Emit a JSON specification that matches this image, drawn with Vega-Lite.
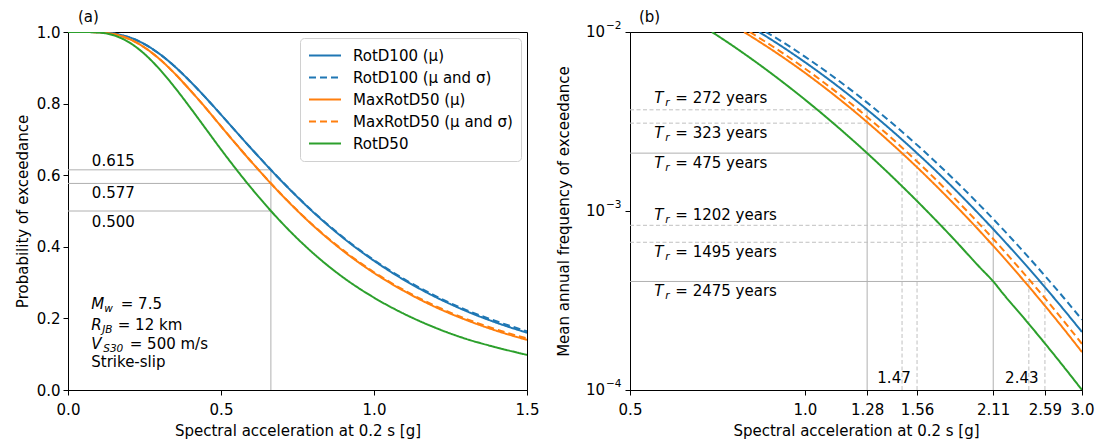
{
 "$schema": "https://vega.github.io/schema/vega-lite/v6.json",
 "padding": {"left": 14, "top": 9, "right": 5, "bottom": 0},
 "spacing": 16,
 "datasets": {
  "curvesA": [
   {"s": "RotD100 (μ)", "x": 0, "y": 1.0}, {"s": "RotD100 (μ)", "x": 0.05, "y": 1.0}, {"s": "RotD100 (μ)", "x": 0.1, "y": 0.9995}, {"s": "RotD100 (μ)", "x": 0.15, "y": 0.9957}, {"s": "RotD100 (μ)", "x": 0.2, "y": 0.9853}, {"s": "RotD100 (μ)", "x": 0.25, "y": 0.9661}, {"s": "RotD100 (μ)", "x": 0.3, "y": 0.9382}, {"s": "RotD100 (μ)", "x": 0.35, "y": 0.9028}, {"s": "RotD100 (μ)", "x": 0.4, "y": 0.8614}, {"s": "RotD100 (μ)", "x": 0.45, "y": 0.8165}, {"s": "RotD100 (μ)", "x": 0.5, "y": 0.7689}, {"s": "RotD100 (μ)", "x": 0.6, "y": 0.6733}, {"s": "RotD100 (μ)", "x": 0.7, "y": 0.5816}, {"s": "RotD100 (μ)", "x": 0.8, "y": 0.498}, {"s": "RotD100 (μ)", "x": 0.9, "y": 0.4243}, {"s": "RotD100 (μ)", "x": 1.0, "y": 0.361}, {"s": "RotD100 (μ)", "x": 1.1, "y": 0.3065}, {"s": "RotD100 (μ)", "x": 1.2, "y": 0.2602}, {"s": "RotD100 (μ)", "x": 1.3, "y": 0.221}, {"s": "RotD100 (μ)", "x": 1.4, "y": 0.188}, {"s": "RotD100 (μ)", "x": 1.5, "y": 0.16},
   {"s": "RotD100 (μ and σ)", "x": 0, "y": 1.0}, {"s": "RotD100 (μ and σ)", "x": 0.05, "y": 1.0}, {"s": "RotD100 (μ and σ)", "x": 0.1, "y": 0.9995}, {"s": "RotD100 (μ and σ)", "x": 0.15, "y": 0.9957}, {"s": "RotD100 (μ and σ)", "x": 0.2, "y": 0.9853}, {"s": "RotD100 (μ and σ)", "x": 0.25, "y": 0.9661}, {"s": "RotD100 (μ and σ)", "x": 0.3, "y": 0.9382}, {"s": "RotD100 (μ and σ)", "x": 0.35, "y": 0.9028}, {"s": "RotD100 (μ and σ)", "x": 0.4, "y": 0.8614}, {"s": "RotD100 (μ and σ)", "x": 0.45, "y": 0.8165}, {"s": "RotD100 (μ and σ)", "x": 0.5, "y": 0.7689}, {"s": "RotD100 (μ and σ)", "x": 0.6, "y": 0.6735}, {"s": "RotD100 (μ and σ)", "x": 0.7, "y": 0.5822}, {"s": "RotD100 (μ and σ)", "x": 0.8, "y": 0.499}, {"s": "RotD100 (μ and σ)", "x": 0.9, "y": 0.426}, {"s": "RotD100 (μ and σ)", "x": 1.0, "y": 0.363}, {"s": "RotD100 (μ and σ)", "x": 1.1, "y": 0.309}, {"s": "RotD100 (μ and σ)", "x": 1.2, "y": 0.263}, {"s": "RotD100 (μ and σ)", "x": 1.3, "y": 0.224}, {"s": "RotD100 (μ and σ)", "x": 1.4, "y": 0.192}, {"s": "RotD100 (μ and σ)", "x": 1.5, "y": 0.164},
   {"s": "MaxRotD50 (μ)", "x": 0, "y": 1.0}, {"s": "MaxRotD50 (μ)", "x": 0.05, "y": 1.0}, {"s": "MaxRotD50 (μ)", "x": 0.1, "y": 0.9992}, {"s": "MaxRotD50 (μ)", "x": 0.15, "y": 0.994}, {"s": "MaxRotD50 (μ)", "x": 0.2, "y": 0.9804}, {"s": "MaxRotD50 (μ)", "x": 0.25, "y": 0.9568}, {"s": "MaxRotD50 (μ)", "x": 0.3, "y": 0.9238}, {"s": "MaxRotD50 (μ)", "x": 0.35, "y": 0.883}, {"s": "MaxRotD50 (μ)", "x": 0.4, "y": 0.8367}, {"s": "MaxRotD50 (μ)", "x": 0.45, "y": 0.788}, {"s": "MaxRotD50 (μ)", "x": 0.5, "y": 0.7367}, {"s": "MaxRotD50 (μ)", "x": 0.6, "y": 0.6366}, {"s": "MaxRotD50 (μ)", "x": 0.7, "y": 0.5434}, {"s": "MaxRotD50 (μ)", "x": 0.8, "y": 0.46}, {"s": "MaxRotD50 (μ)", "x": 0.9, "y": 0.388}, {"s": "MaxRotD50 (μ)", "x": 1.0, "y": 0.327}, {"s": "MaxRotD50 (μ)", "x": 1.1, "y": 0.2756}, {"s": "MaxRotD50 (μ)", "x": 1.2, "y": 0.232}, {"s": "MaxRotD50 (μ)", "x": 1.3, "y": 0.196}, {"s": "MaxRotD50 (μ)", "x": 1.4, "y": 0.1655}, {"s": "MaxRotD50 (μ)", "x": 1.5, "y": 0.14},
   {"s": "MaxRotD50 (μ and σ)", "x": 0, "y": 1.0}, {"s": "MaxRotD50 (μ and σ)", "x": 0.05, "y": 1.0}, {"s": "MaxRotD50 (μ and σ)", "x": 0.1, "y": 0.9992}, {"s": "MaxRotD50 (μ and σ)", "x": 0.15, "y": 0.994}, {"s": "MaxRotD50 (μ and σ)", "x": 0.2, "y": 0.9804}, {"s": "MaxRotD50 (μ and σ)", "x": 0.25, "y": 0.9568}, {"s": "MaxRotD50 (μ and σ)", "x": 0.3, "y": 0.9238}, {"s": "MaxRotD50 (μ and σ)", "x": 0.35, "y": 0.883}, {"s": "MaxRotD50 (μ and σ)", "x": 0.4, "y": 0.8367}, {"s": "MaxRotD50 (μ and σ)", "x": 0.45, "y": 0.788}, {"s": "MaxRotD50 (μ and σ)", "x": 0.5, "y": 0.7367}, {"s": "MaxRotD50 (μ and σ)", "x": 0.6, "y": 0.6368}, {"s": "MaxRotD50 (μ and σ)", "x": 0.7, "y": 0.544}, {"s": "MaxRotD50 (μ and σ)", "x": 0.8, "y": 0.461}, {"s": "MaxRotD50 (μ and σ)", "x": 0.9, "y": 0.39}, {"s": "MaxRotD50 (μ and σ)", "x": 1.0, "y": 0.329}, {"s": "MaxRotD50 (μ and σ)", "x": 1.1, "y": 0.278}, {"s": "MaxRotD50 (μ and σ)", "x": 1.2, "y": 0.235}, {"s": "MaxRotD50 (μ and σ)", "x": 1.3, "y": 0.199}, {"s": "MaxRotD50 (μ and σ)", "x": 1.4, "y": 0.169}, {"s": "MaxRotD50 (μ and σ)", "x": 1.5, "y": 0.144},
   {"s": "RotD50", "x": 0, "y": 1.0}, {"s": "RotD50", "x": 0.05, "y": 1.0}, {"s": "RotD50", "x": 0.1, "y": 0.9986}, {"s": "RotD50", "x": 0.15, "y": 0.9906}, {"s": "RotD50", "x": 0.2, "y": 0.971}, {"s": "RotD50", "x": 0.25, "y": 0.9386}, {"s": "RotD50", "x": 0.3, "y": 0.8953}, {"s": "RotD50", "x": 0.35, "y": 0.844}, {"s": "RotD50", "x": 0.4, "y": 0.788}, {"s": "RotD50", "x": 0.45, "y": 0.73}, {"s": "RotD50", "x": 0.5, "y": 0.672}, {"s": "RotD50", "x": 0.6, "y": 0.563}, {"s": "RotD50", "x": 0.7, "y": 0.466}, {"s": "RotD50", "x": 0.8, "y": 0.383}, {"s": "RotD50", "x": 0.9, "y": 0.314}, {"s": "RotD50", "x": 1.0, "y": 0.258}, {"s": "RotD50", "x": 1.1, "y": 0.212}, {"s": "RotD50", "x": 1.2, "y": 0.174}, {"s": "RotD50", "x": 1.3, "y": 0.143}, {"s": "RotD50", "x": 1.4, "y": 0.119}, {"s": "RotD50", "x": 1.5, "y": 0.098}
  ],
  "curvesB": [
   {"s": "RotD100 (μ)", "x": 0.834, "y": 0.01}, {"s": "RotD100 (μ)", "x": 0.9, "y": 0.008556}, {"s": "RotD100 (μ)", "x": 1.0, "y": 0.006788}, {"s": "RotD100 (μ)", "x": 1.1, "y": 0.005425}, {"s": "RotD100 (μ)", "x": 1.2, "y": 0.004364}, {"s": "RotD100 (μ)", "x": 1.28, "y": 0.003684}, {"s": "RotD100 (μ)", "x": 1.4, "y": 0.00288}, {"s": "RotD100 (μ)", "x": 1.56, "y": 0.002104}, {"s": "RotD100 (μ)", "x": 1.6, "y": 0.00195}, {"s": "RotD100 (μ)", "x": 1.8, "y": 0.001349}, {"s": "RotD100 (μ)", "x": 2.0, "y": 0.000952}, {"s": "RotD100 (μ)", "x": 2.2, "y": 0.000684}, {"s": "RotD100 (μ)", "x": 2.4, "y": 0.0004995}, {"s": "RotD100 (μ)", "x": 2.6, "y": 0.0003699}, {"s": "RotD100 (μ)", "x": 2.8, "y": 0.0002776}, {"s": "RotD100 (μ)", "x": 3.0, "y": 0.0002109},
   {"s": "RotD100 (μ and σ)", "x": 0.856, "y": 0.01}, {"s": "RotD100 (μ and σ)", "x": 0.9, "y": 0.0091}, {"s": "RotD100 (μ and σ)", "x": 1.0, "y": 0.007286}, {"s": "RotD100 (μ and σ)", "x": 1.1, "y": 0.005866}, {"s": "RotD100 (μ and σ)", "x": 1.2, "y": 0.004751}, {"s": "RotD100 (μ and σ)", "x": 1.28, "y": 0.004032}, {"s": "RotD100 (μ and σ)", "x": 1.4, "y": 0.003176}, {"s": "RotD100 (μ and σ)", "x": 1.6, "y": 0.002172}, {"s": "RotD100 (μ and σ)", "x": 1.8, "y": 0.001517}, {"s": "RotD100 (μ and σ)", "x": 2.0, "y": 0.001079}, {"s": "RotD100 (μ and σ)", "x": 2.2, "y": 0.0007816}, {"s": "RotD100 (μ and σ)", "x": 2.4, "y": 0.0005745}, {"s": "RotD100 (μ and σ)", "x": 2.6, "y": 0.0004283}, {"s": "RotD100 (μ and σ)", "x": 2.8, "y": 0.0003235}, {"s": "RotD100 (μ and σ)", "x": 3.0, "y": 0.0002471},
   {"s": "MaxRotD50 (μ)", "x": 0.786, "y": 0.01}, {"s": "MaxRotD50 (μ)", "x": 0.8, "y": 0.009645}, {"s": "MaxRotD50 (μ)", "x": 0.9, "y": 0.007527}, {"s": "MaxRotD50 (μ)", "x": 1.0, "y": 0.005921}, {"s": "MaxRotD50 (μ)", "x": 1.1, "y": 0.004688}, {"s": "MaxRotD50 (μ)", "x": 1.2, "y": 0.00374}, {"s": "MaxRotD50 (μ)", "x": 1.28, "y": 0.003137}, {"s": "MaxRotD50 (μ)", "x": 1.4, "y": 0.00243}, {"s": "MaxRotD50 (μ)", "x": 1.47, "y": 0.002104}, {"s": "MaxRotD50 (μ)", "x": 1.6, "y": 0.001622}, {"s": "MaxRotD50 (μ)", "x": 1.8, "y": 0.001107}, {"s": "MaxRotD50 (μ)", "x": 2.0, "y": 0.0007725}, {"s": "MaxRotD50 (μ)", "x": 2.2, "y": 0.0005489}, {"s": "MaxRotD50 (μ)", "x": 2.4, "y": 0.0003967}, {"s": "MaxRotD50 (μ)", "x": 2.6, "y": 0.000291}, {"s": "MaxRotD50 (μ)", "x": 2.8, "y": 0.0002164}, {"s": "MaxRotD50 (μ)", "x": 3.0, "y": 0.0001629},
   {"s": "MaxRotD50 (μ and σ)", "x": 0.804, "y": 0.01}, {"s": "MaxRotD50 (μ and σ)", "x": 0.9, "y": 0.007921}, {"s": "MaxRotD50 (μ and σ)", "x": 1.0, "y": 0.006256}, {"s": "MaxRotD50 (μ and σ)", "x": 1.1, "y": 0.004975}, {"s": "MaxRotD50 (μ and σ)", "x": 1.2, "y": 0.003984}, {"s": "MaxRotD50 (μ and σ)", "x": 1.28, "y": 0.003353}, {"s": "MaxRotD50 (μ and σ)", "x": 1.4, "y": 0.002608}, {"s": "MaxRotD50 (μ and σ)", "x": 1.6, "y": 0.00175}, {"s": "MaxRotD50 (μ and σ)", "x": 1.8, "y": 0.001202}, {"s": "MaxRotD50 (μ and σ)", "x": 2.0, "y": 0.000842}, {"s": "MaxRotD50 (μ and σ)", "x": 2.2, "y": 0.0006012}, {"s": "MaxRotD50 (μ and σ)", "x": 2.4, "y": 0.000436}, {"s": "MaxRotD50 (μ and σ)", "x": 2.6, "y": 0.000321}, {"s": "MaxRotD50 (μ and σ)", "x": 2.8, "y": 0.0002395}, {"s": "MaxRotD50 (μ and σ)", "x": 3.0, "y": 0.0001809},
   {"s": "RotD50", "x": 0.692, "y": 0.01}, {"s": "RotD50", "x": 0.75, "y": 0.00841}, {"s": "RotD50", "x": 0.8, "y": 0.007268}, {"s": "RotD50", "x": 0.9, "y": 0.005485}, {"s": "RotD50", "x": 1.0, "y": 0.004195}, {"s": "RotD50", "x": 1.1, "y": 0.003247}, {"s": "RotD50", "x": 1.2, "y": 0.002541}, {"s": "RotD50", "x": 1.28, "y": 0.002104}, {"s": "RotD50", "x": 1.4, "y": 0.001603}, {"s": "RotD50", "x": 1.6, "y": 0.001046}, {"s": "RotD50", "x": 1.8, "y": 0.0007033}, {"s": "RotD50", "x": 2.0, "y": 0.0004849}, {"s": "RotD50", "x": 2.11, "y": 0.000404}, {"s": "RotD50", "x": 2.2, "y": 0.0003416}, {"s": "RotD50", "x": 2.4, "y": 0.0002454}, {"s": "RotD50", "x": 2.6, "y": 0.0001793}, {"s": "RotD50", "x": 2.8, "y": 0.000133}, {"s": "RotD50", "x": 3.0, "y": 0.0001}
  ],
  "refA": [
   {"x": 0, "x2": 0.663, "y": 0.615, "y2": 0.615},
   {"x": 0, "x2": 0.663, "y": 0.577, "y2": 0.577},
   {"x": 0, "x2": 0.663, "y": 0.5, "y2": 0.5},
   {"x": 0.663, "x2": 0.663, "y": 0, "y2": 0.615}
  ],
  "refBsolid": [
   {"x": 0.5, "x2": 1.56, "y": 0.002105, "y2": 0.002105},
   {"x": 0.5, "x2": 2.59, "y": 0.000404, "y2": 0.000404},
   {"x": 1.28, "x2": 1.28, "y": 0.0001, "y2": 0.003676},
   {"x": 2.11, "x2": 2.11, "y": 0.0001, "y2": 0.0008319}
  ],
  "refBdash": [
   {"x": 0.5, "x2": 1.28, "y": 0.003676, "y2": 0.003676},
   {"x": 0.5, "x2": 1.28, "y": 0.003096, "y2": 0.003096},
   {"x": 0.5, "x2": 2.11, "y": 0.0008319, "y2": 0.0008319},
   {"x": 0.5, "x2": 2.11, "y": 0.0006689, "y2": 0.0006689},
   {"x": 1.47, "x2": 1.47, "y": 0.0001, "y2": 0.002105},
   {"x": 1.56, "x2": 1.56, "y": 0.0001, "y2": 0.002105},
   {"x": 2.43, "x2": 2.43, "y": 0.0001, "y2": 0.000404},
   {"x": 2.59, "x2": 2.59, "y": 0.0001, "y2": 0.000404}
  ],
  "labA": [
   {"x": 0.078, "y": 0.64, "t": "0.615"},
   {"x": 0.078, "y": 0.55, "t": "0.577"},
   {"x": 0.078, "y": 0.469, "t": "0.500"}
  ],
  "panelA": [{"x": 0, "y": 1, "t": "(a)"}],
  "panelB": [{"x": 0.5, "y": 0.01, "t": "(b)"}],
  "notesA": [
   {"row": 1, "x": 0.076, "y": 0.239, "main": "M", "sub": "w", "rest": "= 7.5"},
   {"row": 2, "x": 0.076, "y": 0.181, "main": "R", "sub": "JB", "rest": "= 12 km"},
   {"row": 3, "x": 0.076, "y": 0.128, "main": "V", "sub": "S30", "rest": "= 500 m/s"},
   {"row": 4, "x": 0.076, "y": 0.077, "main": "", "sub": "", "rest": "Strike-slip"}
  ],
  "notesB": [
   {"x": 0.5506, "y": 0.00428, "main": "T", "sub": "r", "rest": "= 272 years"},
   {"x": 0.5506, "y": 0.002728, "main": "T", "sub": "r", "rest": "= 323 years"},
   {"x": 0.5506, "y": 0.001864, "main": "T", "sub": "r", "rest": "= 475 years"},
   {"x": 0.5506, "y": 0.00095, "main": "T", "sub": "r", "rest": "= 1202 years"},
   {"x": 0.5506, "y": 0.00059, "main": "T", "sub": "r", "rest": "= 1495 years"},
   {"x": 0.5506, "y": 0.0003552, "main": "T", "sub": "r", "rest": "= 2475 years"}
  ],
  "labB": [
   {"x": 1.424, "y": 0.000117, "t": "1.47"},
   {"x": 2.363, "y": 0.000117, "t": "2.43"}
  ],
  "yticksB": [
   {"x": 0.5, "y": 0.01, "e": "−2"},
   {"x": 0.5, "y": 0.001, "e": "−3"},
   {"x": 0.5, "y": 0.0001, "e": "−4"}
  ]
 },
 "hconcat": [
  {
   "width": 459, "height": 358,
   "encoding": {
    "x": {"field": "x", "type": "quantitative", "title": "Spectral acceleration at 0.2 s [g]",
          "scale": {"domain": [0, 1.5], "nice": false, "zero": false},
          "axis": {"values": [0, 0.5, 1.0, 1.5], "format": ".1f"}},
    "y": {"field": "y", "type": "quantitative", "title": "Probability of exceedance",
          "scale": {"domain": [0, 1], "nice": false},
          "axis": {"values": [0, 0.2, 0.4, 0.6, 0.8, 1.0], "format": ".1f", "labelPadding": 3}}
   },
   "layer": [
    {"data": {"name": "refA"}, "mark": {"type": "rule", "color": "#b0b0b0", "strokeWidth": 1},
     "encoding": {"x2": {"field": "x2"}, "y2": {"field": "y2"}}},
    {"data": {"name": "curvesA"}, "mark": {"type": "line", "strokeWidth": 2, "interpolate": "monotone", "clip": true},
     "encoding": {
      "color": {"field": "s", "type": "nominal",
        "scale": {"domain": ["RotD100 (μ)", "RotD100 (μ and σ)", "MaxRotD50 (μ)", "MaxRotD50 (μ and σ)", "RotD50"], "range": ["#1f77b4", "#1f77b4", "#ff7f0e", "#ff7f0e", "#2ca02c"]},
        "legend": {"orient": "top-right", "offset": 6, "title": null, "symbolType": "stroke", "symbolStrokeWidth": 2, "symbolSize": 1024, "clipHeight": 19, "labelFontSize": 15, "labelOffset": 11, "labelColor": "black", "fillColor": "white", "strokeColor": "#d0d0d0", "cornerRadius": 4, "padding": 8, "rowPadding": 3}},
      "strokeDash": {"field": "s", "type": "nominal",
        "scale": {"domain": ["RotD100 (μ)", "RotD100 (μ and σ)", "MaxRotD50 (μ)", "MaxRotD50 (μ and σ)", "RotD50"], "range": [[1, 0], [7, 4], [1, 0], [7, 4], [1, 0]]},
        "legend": {"orient": "top-right", "offset": 6, "title": null, "symbolType": "stroke", "symbolStrokeWidth": 2, "symbolSize": 1024, "clipHeight": 19, "labelFontSize": 15, "labelOffset": 11, "labelColor": "black", "fillColor": "white", "strokeColor": "#d0d0d0", "cornerRadius": 4, "padding": 8, "rowPadding": 3}}
     }},
    {"data": {"name": "labA"}, "mark": {"type": "text", "align": "left", "baseline": "middle", "color": "black"},
     "encoding": {"text": {"field": "t"}}},
    {"data": {"name": "panelA"}, "mark": {"type": "text", "align": "left", "baseline": "alphabetic", "dx": 10, "dy": -10, "color": "black"},
     "encoding": {"text": {"field": "t"}}},
    {"data": {"name": "notesA"}, "mark": {"type": "text", "align": "left", "baseline": "middle", "fontStyle": "italic", "color": "black"},
     "encoding": {"text": {"field": "main"}}},
    {"data": {"name": "notesA"}, "transform": [{"filter": "datum.row == 1"}], "mark": {"type": "text", "align": "left", "baseline": "middle", "fontStyle": "italic", "fontSize": 10.5, "dx": 13, "dy": 5, "color": "black"},
     "encoding": {"text": {"field": "sub"}}},
    {"data": {"name": "notesA"}, "transform": [{"filter": "datum.row == 2"}], "mark": {"type": "text", "align": "left", "baseline": "middle", "fontStyle": "italic", "fontSize": 10.5, "dx": 11, "dy": 5, "color": "black"},
     "encoding": {"text": {"field": "sub"}}},
    {"data": {"name": "notesA"}, "transform": [{"filter": "datum.row == 3"}], "mark": {"type": "text", "align": "left", "baseline": "middle", "fontStyle": "italic", "fontSize": 10.5, "dx": 12, "dy": 5, "color": "black"},
     "encoding": {"text": {"field": "sub"}}},
    {"data": {"name": "notesA"}, "transform": [{"filter": "datum.row == 1"}], "mark": {"type": "text", "align": "left", "baseline": "middle", "dx": 29.5, "color": "black"},
     "encoding": {"text": {"field": "rest"}}},
    {"data": {"name": "notesA"}, "transform": [{"filter": "datum.row == 2"}], "mark": {"type": "text", "align": "left", "baseline": "middle", "dx": 26.5, "color": "black"},
     "encoding": {"text": {"field": "rest"}}},
    {"data": {"name": "notesA"}, "transform": [{"filter": "datum.row == 3"}], "mark": {"type": "text", "align": "left", "baseline": "middle", "dx": 38.5, "color": "black"},
     "encoding": {"text": {"field": "rest"}}},
    {"data": {"name": "notesA"}, "transform": [{"filter": "datum.row == 4"}], "mark": {"type": "text", "align": "left", "baseline": "middle", "color": "black"},
     "encoding": {"text": {"field": "rest"}}}
   ]
  },
  {
   "width": 452, "height": 358,
   "encoding": {
    "x": {"field": "x", "type": "quantitative", "title": "Spectral acceleration at 0.2 s [g]",
          "scale": {"type": "log", "domain": [0.5, 3.0], "nice": false},
          "axis": {"values": [0.5, 1.0, 1.28, 1.56, 2.11, 2.59, 3.0], "labelExpr": "datum.value == 1 ? '1.0' : datum.value == 3 ? '3.0' : format(datum.value, '.2~f')"}},
    "y": {"field": "y", "type": "quantitative", "title": "Mean annual frequency of exceedance",
          "scale": {"type": "log", "domain": [0.0001, 0.01], "nice": false},
          "axis": {"values": [0.0001, 0.001, 0.01], "labels": false, "titlePadding": 53}}
   },
   "layer": [
    {"data": {"name": "refBsolid"}, "mark": {"type": "rule", "color": "#b0b0b0", "strokeWidth": 1},
     "encoding": {"x2": {"field": "x2"}, "y2": {"field": "y2"}}},
    {"data": {"name": "refBdash"}, "mark": {"type": "rule", "color": "#c0c0c0", "strokeWidth": 1, "strokeDash": [4, 2.5]},
     "encoding": {"x2": {"field": "x2"}, "y2": {"field": "y2"}}},
    {"data": {"name": "curvesB"}, "mark": {"type": "line", "strokeWidth": 2, "interpolate": "monotone", "clip": true},
     "encoding": {
      "color": {"field": "s", "type": "nominal",
        "scale": {"domain": ["RotD100 (μ)", "RotD100 (μ and σ)", "MaxRotD50 (μ)", "MaxRotD50 (μ and σ)", "RotD50"], "range": ["#1f77b4", "#1f77b4", "#ff7f0e", "#ff7f0e", "#2ca02c"]},
        "legend": null},
      "strokeDash": {"field": "s", "type": "nominal",
        "scale": {"domain": ["RotD100 (μ)", "RotD100 (μ and σ)", "MaxRotD50 (μ)", "MaxRotD50 (μ and σ)", "RotD50"], "range": [[1, 0], [7, 4], [1, 0], [7, 4], [1, 0]]},
        "legend": null}
     }},
    {"data": {"name": "labB"}, "mark": {"type": "text", "align": "center", "baseline": "middle", "color": "black"},
     "encoding": {"text": {"field": "t"}}},
    {"data": {"name": "panelB"}, "mark": {"type": "text", "align": "left", "baseline": "alphabetic", "dx": 9, "dy": -10, "color": "black"},
     "encoding": {"text": {"field": "t"}}},
    {"data": {"name": "yticksB"}, "mark": {"type": "text", "align": "right", "baseline": "middle", "dx": -25, "color": "black"},
     "encoding": {"text": {"value": "10"}}},
    {"data": {"name": "yticksB"}, "mark": {"type": "text", "align": "left", "baseline": "middle", "dx": -24, "dy": -6, "fontSize": 10.5, "color": "black"},
     "encoding": {"text": {"field": "e"}}},
    {"data": {"name": "notesB"}, "mark": {"type": "text", "align": "left", "baseline": "middle", "fontStyle": "italic", "color": "black"},
     "encoding": {"text": {"field": "main"}}},
    {"data": {"name": "notesB"}, "mark": {"type": "text", "align": "left", "baseline": "middle", "fontStyle": "italic", "fontSize": 10.5, "dx": 11, "dy": 5, "color": "black"},
     "encoding": {"text": {"field": "sub"}}},
    {"data": {"name": "notesB"}, "mark": {"type": "text", "align": "left", "baseline": "middle", "dx": 21, "color": "black"},
     "encoding": {"text": {"field": "rest"}}}
   ]
  }
 ],
 "resolve": {"scale": {"color": "independent", "strokeDash": "independent"}, "legend": {"color": "independent", "strokeDash": "independent"}},
 "config": {
  "font": "DejaVu Sans",
  "view": {"stroke": "black", "strokeWidth": 1},
  "axis": {"grid": false, "domainColor": "black", "domainWidth": 1, "tickColor": "black", "tickSize": 5, "labelFontSize": 15, "titleFontSize": 15, "titleFontWeight": "normal", "labelColor": "black", "titleColor": "black", "labelPadding": 7, "labelFlush": false, "labelOverlap": false, "labelBound": false, "titlePadding": 6, "labelFont": "DejaVu Sans", "titleFont": "DejaVu Sans"},
  "text": {"font": "DejaVu Sans", "fontSize": 15},
  "title": {"font": "DejaVu Sans", "fontSize": 15, "fontWeight": "normal", "color": "black"}
 }
}
